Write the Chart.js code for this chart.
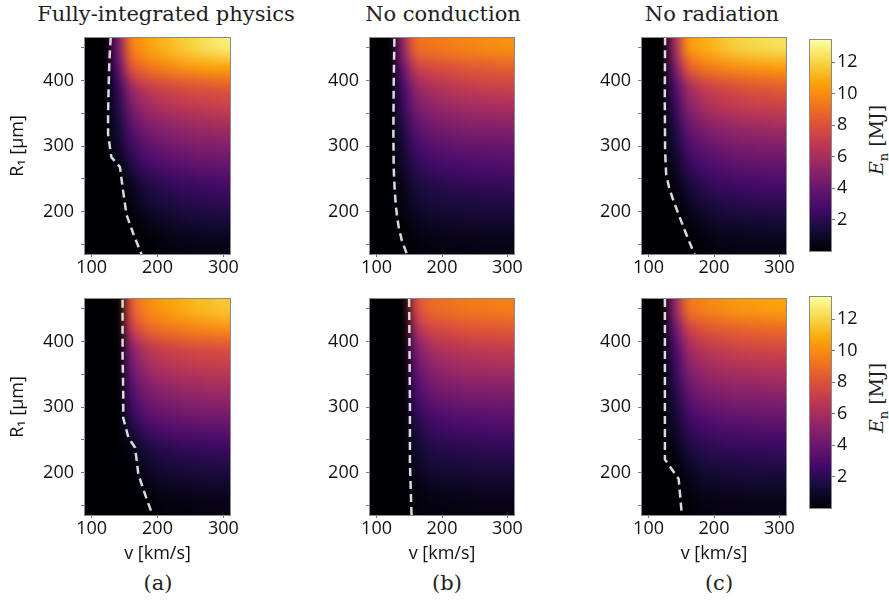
<!DOCTYPE html>
<html lang="en">
<head>
<meta charset="UTF-8">
<title>Neutron energy maps</title>
<script src="https://cdn.jsdelivr.net/npm/chart.js"></script>
<style>
  body { margin: 0; background: #fff; }
  #fig { position: relative; width: 889px; height: 610px; overflow: hidden; font-family: 'DejaVu Serif', serif; color: #1e1e1e; }
  #fig canvas { position: absolute; }
  .lbl { position: absolute; font-size: 21px; white-space: nowrap; transform: translate(-50%, -50%); }
  .cb-lbl { position: absolute; font-size: 19px; white-space: nowrap; transform: translate(-50%, -50%) rotate(-90deg); }
  .cb-lbl sub { font-size: 13px; }
</style>
</head>
<body>
<div id="fig">
  <div class="lbl" style="left:166px; top:14px;">Fully-integrated physics</div>
  <div class="lbl" style="left:443px; top:14px;">No conduction</div>
  <div class="lbl" style="left:712px; top:14px;">No radiation</div>

  <canvas id="a1" width="250" height="258" style="left:0px; top:28px;"></canvas>
  <canvas id="b1" width="224" height="258" style="left:310px; top:28px;"></canvas>
  <canvas id="c1" width="224" height="258" style="left:582px; top:28px;"></canvas>
  <canvas id="a2" width="250" height="276" style="left:0px; top:289px;"></canvas>
  <canvas id="b2" width="224" height="276" style="left:310px; top:289px;"></canvas>
  <canvas id="c2" width="224" height="276" style="left:582px; top:289px;"></canvas>
  <canvas id="cb1" width="61" height="226" style="left:800px; top:30px;"></canvas>
  <canvas id="cb2" width="61" height="226" style="left:800px; top:287px;"></canvas>

  <div class="cb-lbl" style="left:878px; top:140px;"><i>E</i><sub>n</sub> [MJ]</div>
  <div class="cb-lbl" style="left:878px; top:398px;"><i>E</i><sub>n</sub> [MJ]</div>

  <div class="lbl" style="left:158px; top:583px;">(a)</div>
  <div class="lbl" style="left:447px; top:583px;">(b)</div>
  <div class="lbl" style="left:719px; top:583px;">(c)</div>
</div>

<script>
// grid cell centres
const V_CELLS = [100, 120, 140, 160, 180, 200, 220, 240, 260, 280, 300];   // km/s
const R_CELLS = [450, 420, 390, 360, 330, 300, 270, 240, 210, 180, 150];   // µm, top row first

const V_TICKS = [100, 200, 300];
const R_TICKS = [150, 200, 250, 300, 350, 400, 450];
const EN_TICKS = [2, 4, 6, 8, 10, 12];
const EN_MIN = 0, EN_MAX = 13.4;

// E_n [MJ] per cell, rows follow R_CELLS, columns follow V_CELLS
const EN_A_TOP = [
  [0, 0, 4.3, 9.4, 10.4, 10.9, 11.3, 11.7, 12.1, 12.4, 12.7],
  [0, 0, 3.5, 8.0, 9.0, 9.5, 9.9, 10.2, 10.4, 10.6, 10.7],
  [0, 0, 2.25, 5.55, 6.8, 7.3, 7.65, 7.9, 8.1, 8.2, 8.35],
  [0, 0, 1.75, 4.35, 5.55, 6.1, 6.45, 6.7, 6.85, 7.0, 7.15],
  [0, 0, 1.3, 3.35, 4.4, 4.95, 5.2, 5.45, 5.65, 5.75, 5.9],
  [0, 0, 1.0, 2.5, 3.4, 3.85, 4.25, 4.45, 4.65, 4.75, 4.85],
  [0, 0, 0.2, 1.55, 2.5, 2.95, 3.2, 3.45, 3.65, 3.75, 3.85],
  [0, 0, 0, 0.65, 1.45, 1.9, 2.2, 2.4, 2.5, 2.65, 2.75],
  [0, 0, 0, 0.3, 0.9, 1.3, 1.5, 1.7, 1.8, 1.9, 2.0],
  [0, 0, 0, 0, 0.3, 0.6, 0.8, 1.0, 1.1, 1.15, 1.2],
  [0, 0, 0, 0, 0, 0.15, 0.3, 0.4, 0.45, 0.5, 0.5]
];
const EN_B_TOP = [
  [0, 0, 5.2, 8.9, 9.2, 9.4, 9.6, 9.75, 9.9, 10.0, 10.1],
  [0, 0, 3.95, 7.0, 7.65, 7.9, 8.1, 8.3, 8.35, 8.45, 8.55],
  [0, 0, 2.8, 5.3, 6.1, 6.5, 6.8, 6.95, 7.1, 7.2, 7.3],
  [0, 0, 2.25, 4.35, 5.05, 5.4, 5.65, 5.85, 5.9, 6.0, 6.1],
  [0, 0, 1.75, 3.5, 4.15, 4.5, 4.65, 4.8, 4.9, 4.95, 5.0],
  [0, 0, 1.25, 2.7, 3.25, 3.5, 3.7, 3.8, 3.85, 3.9, 3.95],
  [0, 0, 0.9, 2.0, 2.5, 2.75, 2.85, 2.95, 3.05, 3.1, 3.15],
  [0, 0, 0.5, 1.4, 1.75, 1.9, 2.05, 2.15, 2.2, 2.25, 2.3],
  [0, 0, 0.35, 1.0, 1.25, 1.4, 1.45, 1.5, 1.55, 1.6, 1.6],
  [0, 0, 0.1, 0.5, 0.7, 0.8, 0.85, 0.9, 0.95, 1.0, 1.0],
  [0, 0, 0, 0.15, 0.3, 0.35, 0.4, 0.4, 0.45, 0.45, 0.45]
];
const EN_C_TOP = [
  [0, 0, 5.7, 10.1, 10.8, 11.2, 11.6, 11.9, 12.1, 12.2, 12.3],
  [0, 0, 4.4, 8.2, 9.2, 9.6, 9.9, 10.1, 10.25, 10.35, 10.45],
  [0, 0, 2.95, 5.75, 6.8, 7.4, 7.75, 8.0, 8.2, 8.3, 8.45],
  [0, 0, 2.35, 4.8, 5.75, 6.35, 6.7, 6.9, 7.05, 7.15, 7.2],
  [0, 0, 1.75, 3.8, 4.6, 5.1, 5.35, 5.6, 5.7, 5.8, 5.9],
  [0, 0, 1.25, 2.9, 3.6, 4.05, 4.3, 4.5, 4.6, 4.7, 4.75],
  [0, 0, 0.75, 2.1, 2.75, 3.15, 3.4, 3.55, 3.65, 3.75, 3.75],
  [0, 0, 0.25, 1.3, 1.9, 2.3, 2.45, 2.6, 2.7, 2.8, 2.85],
  [0, 0, 0, 0.6, 1.2, 1.5, 1.7, 1.8, 1.9, 1.95, 2.0],
  [0, 0, 0, 0.1, 0.5, 0.8, 0.95, 1.05, 1.1, 1.15, 1.2],
  [0, 0, 0, 0, 0.1, 0.3, 0.4, 0.45, 0.5, 0.5, 0.5]
];
const EN_A_BOT = [
  [0, 0, 0, 8.1, 9.7, 10.2, 10.6, 10.9, 11.2, 11.4, 11.6],
  [0, 0, 0, 6.8, 8.5, 9.0, 9.3, 9.6, 9.8, 9.95, 10.05],
  [0, 0, 0, 4.8, 6.45, 7.05, 7.4, 7.65, 7.8, 7.9, 8.0],
  [0, 0, 0, 4.0, 5.5, 6.1, 6.45, 6.65, 6.8, 6.9, 6.95],
  [0, 0, 0, 3.15, 4.5, 5.05, 5.35, 5.6, 5.7, 5.85, 5.9],
  [0, 0, 0, 2.45, 3.6, 4.15, 4.35, 4.6, 4.7, 4.8, 4.85],
  [0, 0, 0, 1.45, 2.6, 3.1, 3.3, 3.45, 3.55, 3.65, 3.7],
  [0, 0, 0, 0.4, 1.45, 1.9, 2.15, 2.35, 2.4, 2.5, 2.55],
  [0, 0, 0, 0.1, 0.8, 1.2, 1.4, 1.5, 1.6, 1.65, 1.7],
  [0, 0, 0, 0, 0.3, 0.6, 0.75, 0.85, 0.9, 0.95, 1.0],
  [0, 0, 0, 0, 0, 0.15, 0.25, 0.3, 0.35, 0.4, 0.4]
];
const EN_B_BOT = [
  [0, 0, 0, 7.4, 8.75, 9.0, 9.2, 9.35, 9.45, 9.5, 9.6],
  [0, 0, 0, 5.85, 7.4, 7.75, 7.95, 8.1, 8.2, 8.25, 8.3],
  [0, 0, 0, 4.45, 5.85, 6.35, 6.6, 6.8, 6.9, 7.0, 7.05],
  [0, 0, 0, 3.65, 4.95, 5.4, 5.65, 5.85, 5.9, 6.0, 6.0],
  [0, 0, 0, 2.9, 4.05, 4.5, 4.65, 4.8, 4.85, 4.95, 4.95],
  [0, 0, 0, 2.25, 3.15, 3.5, 3.7, 3.8, 3.85, 3.95, 3.95],
  [0, 0, 0, 1.55, 2.4, 2.65, 2.8, 2.9, 2.95, 3.05, 3.05],
  [0, 0, 0, 1.05, 1.65, 1.9, 2.05, 2.1, 2.15, 2.2, 2.2],
  [0, 0, 0, 0.7, 1.2, 1.35, 1.4, 1.45, 1.5, 1.5, 1.5],
  [0, 0, 0, 0.3, 0.65, 0.75, 0.8, 0.85, 0.9, 0.9, 0.9],
  [0, 0, 0, 0.1, 0.25, 0.3, 0.35, 0.35, 0.4, 0.4, 0.4]
];
const EN_C_BOT = [
  [0, 0, 5.2, 9.0, 9.6, 9.9, 10.1, 10.3, 10.4, 10.5, 10.6],
  [0, 0, 3.95, 7.1, 8.0, 8.35, 8.55, 8.7, 8.8, 8.85, 8.9],
  [0, 0, 2.85, 5.55, 6.55, 6.95, 7.2, 7.4, 7.5, 7.55, 7.65],
  [0, 0, 2.35, 4.7, 5.5, 5.9, 6.15, 6.25, 6.35, 6.45, 6.5],
  [0, 0, 1.85, 3.8, 4.6, 4.95, 5.1, 5.25, 5.3, 5.35, 5.45],
  [0, 0, 1.35, 2.95, 3.65, 3.95, 4.15, 4.25, 4.3, 4.35, 4.4],
  [0, 0, 0.9, 2.2, 2.7, 3.0, 3.15, 3.2, 3.3, 3.35, 3.4],
  [0, 0, 0.5, 1.45, 1.9, 2.15, 2.3, 2.35, 2.4, 2.4, 2.45],
  [0, 0, 0, 0.8, 1.3, 1.45, 1.55, 1.6, 1.65, 1.7, 1.7],
  [0, 0, 0, 0.3, 0.7, 0.8, 0.9, 0.95, 1.0, 1.0, 1.0],
  [0, 0, 0, 0.05, 0.3, 0.35, 0.4, 0.42, 0.45, 0.45, 0.45]
];

// ignition boundary (dashed), v [km/s] against R1 [µm]
const EDGE_A_TOP_V = [129, 127, 126, 125, 125, 130, 143, 147, 153, 164, 176];
const EDGE_A_TOP_R = [466, 430, 395, 350, 318, 283, 268, 237, 195, 164, 134];
const EDGE_B_TOP_V = [127.3, 126.2, 125.7, 126.2, 127.3, 128.9, 131, 134, 138.8, 146.7];
const EDGE_B_TOP_R = [464, 394, 318, 267, 241, 216, 195, 175, 155, 134];
const EDGE_C_TOP_V = [125.3, 124.8, 125.3, 126.9, 131.5, 138.2, 153.7, 170.3];
const EDGE_C_TOP_R = [466, 370, 293, 257, 236, 216, 175, 134];
const EDGE_A_BOT_V = [147, 147, 148, 148, 156, 166, 171, 181, 192];
const EDGE_A_BOT_R = [464, 380, 320, 283, 253, 238, 197, 167, 136];
const EDGE_B_BOT_V = [149.8, 151, 151, 153.5];
const EDGE_B_BOT_R = [465, 303, 215, 133];
const EDGE_C_BOT_V = [125, 125, 146, 151];
const EDGE_C_BOT_R = [465, 220, 190, 134];

const INFERNO = ['#000004', '#160b39', '#420a68', '#6a176e', '#932667', '#bc3754',
                 '#dd513a', '#f37819', '#fca50a', '#f6d746', '#fcffa4']
  .map(h => [1, 3, 5].map(i => parseInt(h.substr(i, 2), 16)));

function inferno(t) {
  t = Math.min(1, Math.max(0, t)) * (INFERNO.length - 1);
  const i = Math.min(Math.floor(t), INFERNO.length - 2), f = t - i;
  return INFERNO[i].map((c, k) => Math.round(c + (INFERNO[i + 1][k] - c) * f));
}

Chart.defaults.font.family = "'Open Sans', 'DejaVu Sans', sans-serif";
Chart.defaults.font.size = 18;
Chart.defaults.color = '#111';

// paints the energy grid as a smoothed image under the dashed boundary
function heatmap(grid) {
  return {
    id: 'heatmap',
    beforeDatasetsDraw(chart) {
      const {ctx, chartArea: a, scales: {x, y}} = chart;
      const rows = grid.length, cols = grid[0].length;
      const off = document.createElement('canvas');
      off.width = cols; off.height = rows;
      const octx = off.getContext('2d');
      const img = octx.createImageData(cols, rows);
      grid.forEach((row, i) => row.forEach((val, j) => {
        const [r, g, b] = inferno((val - EN_MIN) / (EN_MAX - EN_MIN));
        img.data.set([r, g, b, 255], (i * cols + j) * 4);
      }));
      octx.putImageData(img, 0, 0);
      const dv = (V_CELLS[1] - V_CELLS[0]) / 2, dr = (R_CELLS[0] - R_CELLS[1]) / 2;
      const x0 = x.getPixelForValue(V_CELLS[0] - dv), x1 = x.getPixelForValue(V_CELLS[cols - 1] + dv);
      const y0 = y.getPixelForValue(R_CELLS[0] + dr), y1 = y.getPixelForValue(R_CELLS[rows - 1] - dr);
      ctx.save();
      ctx.beginPath();
      ctx.rect(a.left, a.top, a.right - a.left, a.bottom - a.top);
      ctx.clip();
      ctx.imageSmoothingEnabled = true;
      ctx.imageSmoothingQuality = 'high';
      ctx.drawImage(off, x0, y0, x1 - x0, y1 - y0);
      ctx.restore();
    }
  };
}

// colour ramp for the colour bar, read back through the y scale
const rampPlugin = {
  id: 'ramp',
  beforeDatasetsDraw(chart) {
    const {ctx, chartArea: a, scales: {y}} = chart;
    for (let py = Math.floor(a.top); py < a.bottom; py++) {
      const [r, g, b] = inferno((y.getValueForPixel(py + 0.5) - EN_MIN) / (EN_MAX - EN_MIN));
      ctx.fillStyle = `rgb(${r},${g},${b})`;
      ctx.fillRect(a.left, py, a.right - a.left, 1);
    }
  }
};

const framePlugin = {
  id: 'frame',
  afterDatasetsDraw(chart) {
    const {ctx, chartArea: a} = chart;
    ctx.save();
    ctx.strokeStyle = '#8a8a8a';
    ctx.lineWidth = 1;
    ctx.strokeRect(a.left - 0.5, a.top - 0.5, a.right - a.left + 1, a.bottom - a.top + 1);
    ctx.restore();
  }
};

function setTicks(values) {
  return scale => { scale.ticks = values.map(v => ({value: v})); };
}

// fixed axis sizes so every plot area lands on the same grid
function fixWidth(w) {
  return s => { s.width = w; s.paddingTop = 0; s.paddingBottom = 0; };
}
function fixHeight(h) {
  return s => { s.height = h; s.paddingLeft = 0; s.paddingRight = 0; };
}

function makePanel(id, grid, edgeV, edgeR, yw, xh, yTitle, xTitle) {
  new Chart(document.getElementById(id), {
    type: 'scatter',
    data: {
      datasets: [{
        data: edgeV.map((v, i) => ({x: v, y: edgeR[i]})),
        showLine: true,
        borderColor: '#dadada',
        borderWidth: 2.5,
        borderDash: [8, 5],
        borderCapStyle: 'butt',
        pointRadius: 0,
        tension: 0
      }]
    },
    options: {
      responsive: false,
      animation: false,
      devicePixelRatio: 1,
      layout: {padding: {left: 0, right: 20, top: 10, bottom: 0}},
      plugins: {legend: {display: false}, tooltip: {enabled: false}},
      scales: {
        x: {
          type: 'linear', min: 90, max: 310,
          afterBuildTicks: setTicks(V_TICKS),
          afterFit: fixHeight(xh),
          grid: {drawOnChartArea: false, tickLength: 3, color: '#777'},
          border: {display: false},
          ticks: {padding: 0, maxRotation: 0},
          title: {display: xTitle, text: 'v [km/s]', padding: {top: 0, bottom: 0}}
        },
        y: {
          type: 'linear', min: 135, max: 465,
          afterBuildTicks: setTicks(R_TICKS),
          afterFit: fixWidth(yw),
          grid: {drawOnChartArea: false, tickLength: 4, color: '#777'},
          border: {display: false},
          ticks: {padding: 7, callback: v => (v % 100 === 0 ? v : '')},
          title: {display: yTitle, text: 'R₁ [μm]', padding: {top: 7, bottom: 0}}
        }
      }
    },
    plugins: [heatmap(grid), framePlugin]
  });
}

function makeColorbar(id) {
  new Chart(document.getElementById(id), {
    type: 'scatter',
    data: {datasets: []},
    options: {
      responsive: false,
      animation: false,
      devicePixelRatio: 1,
      layout: {padding: {left: 10, right: 0, top: 10, bottom: 5}},
      plugins: {legend: {display: false}, tooltip: {enabled: false}},
      scales: {
        x: {display: false},
        y: {
          type: 'linear', position: 'right', min: EN_MIN, max: EN_MAX,
          afterBuildTicks: setTicks(EN_TICKS),
          afterFit: fixWidth(30),
          grid: {drawOnChartArea: false, tickLength: 4, color: '#777'},
          border: {display: false},
          ticks: {padding: 2}
        }
      }
    },
    plugins: [rampPlugin, framePlugin]
  });
}

makePanel('a1', EN_A_TOP, EDGE_A_TOP_V, EDGE_A_TOP_R, 85, 32, true, false);
makePanel('b1', EN_B_TOP, EDGE_B_TOP_V, EDGE_B_TOP_R, 60, 32, false, false);
makePanel('c1', EN_C_TOP, EDGE_C_TOP_V, EDGE_C_TOP_R, 60, 32, false, false);
makePanel('a2', EN_A_BOT, EDGE_A_BOT_V, EDGE_A_BOT_R, 85, 50, true, true);
makePanel('b2', EN_B_BOT, EDGE_B_BOT_V, EDGE_B_BOT_R, 60, 50, false, true);
makePanel('c2', EN_C_BOT, EDGE_C_BOT_V, EDGE_C_BOT_R, 60, 50, false, true);
makeColorbar('cb1');
makeColorbar('cb2');
</script>
</body>
</html>
